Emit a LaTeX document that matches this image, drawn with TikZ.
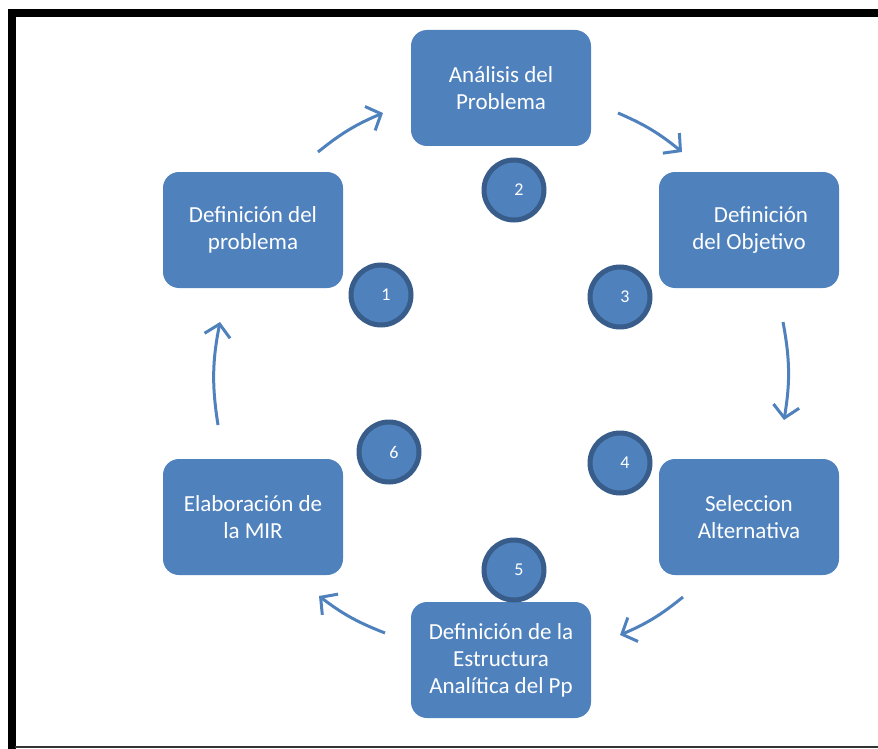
\documentclass[tikz,border=0pt]{standalone}
\usepackage{fontspec}
\setmainfont{Carlito}
\usetikzlibrary{arrows.meta}
\definecolor{boxblue}{HTML}{4F81BD}
\definecolor{rimblue}{HTML}{385D8A}
\tikzset{
  stage/.style={rectangle, rounded corners=8pt, fill=boxblue, text=white,
    minimum width=90pt, minimum height=58pt, align=center,
    font=\fontsize{11.5}{13.5}\selectfont},
  badge/.style={circle, fill=boxblue, draw=rimblue, line width=2.5pt,
    minimum size=30pt, inner sep=0pt, text=white, font=\fontsize{9}{10}\selectfont,
    execute at begin node={\hspace*{5pt}}},
  flow/.style={draw=boxblue, line width=1.5pt,
    -{Straight Barb[length=6pt,width=13pt,line width=1.5pt]}}
}
\begin{document}
\begin{tikzpicture}[x=0.5pt, y=-0.5pt]
  \useasboundingbox (0,0) rectangle (878,749);
  % frame
  \draw[line width=4pt] (11.5,749) -- (11.5,13) -- (878,13);
  \draw[line width=0.6pt, black!80] (15,747) -- (878,747);
  % stages
  \node[stage] (s1) at (253,230) {Definición del\\problema};
  \node[stage] (s2) at (501,88) {Análisis del\\Problema};
  \node[stage] (s3) at (749,230) {\hspace*{12pt}Definición\\del Objetivo};
  \node[stage] (s4) at (749,517) {Seleccion\\Alternativa};
  \node[stage] (s5) at (501,660) {Definición de la\\Estructura\\Analítica del Pp};
  \node[stage] (s6) at (253,517) {Elaboración de\\la MIR};
  % numbers
  \node[badge] (n1) at (381,295) {1};
  \node[badge] (n2) at (514,190) {2};
  \node[badge] (n3) at (620,297) {3};
  \node[badge] (n4) at (620,463) {4};
  \node[badge] (n5) at (514,570) {5};
  \node[badge] (n6) at (389,452) {6};
  % arrow ends
  \coordinate (a1s) at (318,152); \coordinate (a1e) at (383,113);
  \coordinate (a2s) at (618,113); \coordinate (a2e) at (682,152);
  \coordinate (a3s) at (783,322); \coordinate (a3e) at (784,420);
  \coordinate (a4s) at (683,597); \coordinate (a4e) at (620,635);
  \coordinate (a5s) at (385,633); \coordinate (a5e) at (319,596);
  \coordinate (a6s) at (218,425); \coordinate (a6e) at (220,322);
  \begin{scope}[flow]
    \draw (a1s) to[bend left=8] (a1e);
    \draw (a2s) to[bend left=8] (a2e);
    \draw (a3s) to[bend left=10] (a3e);
    \draw (a4s) to[bend left=8] (a4e);
    \draw (a5s) to[bend left=8] (a5e);
    \draw (a6s) to[bend left=10] (a6e);
  \end{scope}
\end{tikzpicture}
\end{document}
